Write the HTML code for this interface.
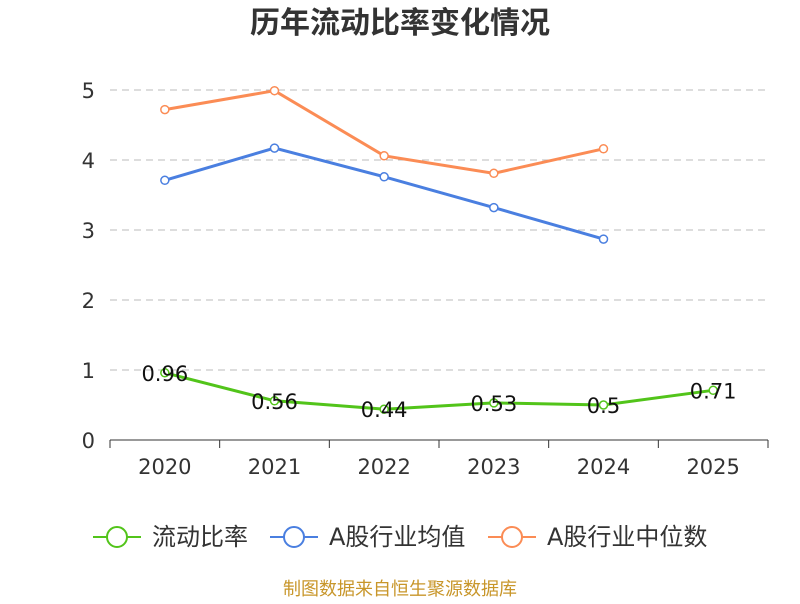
<!DOCTYPE html>
<html><head><meta charset="utf-8"><style>
body{margin:0;background:#fff;font-family:"DejaVu Sans","Noto Sans CJK SC",sans-serif}
</style></head><body>
<svg width="800" height="600" xmlns="http://www.w3.org/2000/svg" id="c" font-family="DejaVu Sans, Noto Sans CJK SC, sans-serif">
<text x="400" y="33" text-anchor="middle" font-size="30" font-weight="bold" fill="#333" font-family="Noto Sans CJK SC, sans-serif">历年流动比率变化情况</text>
<g id="grid"></g><g id="axes"></g><g id="series"></g>
<g font-size="24" fill="#333">
<g><line x1="93" y1="537" x2="141" y2="537" stroke="#52c41a" stroke-width="2"/><circle cx="117" cy="537" r="10" fill="#fff" stroke="#52c41a" stroke-width="2"/><text x="152" y="545">流动比率</text></g>
<g><line x1="270" y1="537" x2="318" y2="537" stroke="#4a7fe0" stroke-width="2"/><circle cx="294" cy="537" r="10" fill="#fff" stroke="#4a7fe0" stroke-width="2"/><text x="329" y="545">A股行业均值</text></g>
<g><line x1="488" y1="537" x2="536" y2="537" stroke="#fb8c55" stroke-width="2"/><circle cx="512" cy="537" r="10" fill="#fff" stroke="#fb8c55" stroke-width="2"/><text x="547" y="545">A股行业中位数</text></g>
</g>
<text x="400" y="595" text-anchor="middle" font-size="18" fill="#c8962a">制图数据来自恒生聚源数据库</text>
</svg>
<script>
const categories=["2020","2021","2022","2023","2024","2025"];
const currentRatio=[0.96,0.56,0.44,0.53,0.5,0.71];
const industryMean=[3.71,4.17,3.76,3.32,2.87];
const industryMedian=[4.72,4.99,4.06,3.81,4.16];
const yTicks=[0,1,2,3,4,5];
const NS="http://www.w3.org/2000/svg";
const x0=110,x1=768,y0=440,yTop=90,yMax=5;
const bw=(x1-x0)/categories.length;
const X=i=>x0+bw*(i+0.5);
const Y=v=>y0-(v/yMax)*(y0-yTop);
function mk(t,a,p){const e=document.createElementNS(NS,t);for(const k in a)e.setAttribute(k,a[k]);p.appendChild(e);return e;}
const grid=document.getElementById('grid'),axes=document.getElementById('axes'),ser=document.getElementById('series');
yTicks.forEach(v=>{
 if(v>0){const g=mk('line',{x1:x0,x2:x1,y1:Y(v),y2:Y(v),stroke:'#bbb','stroke-dasharray':'7,5'},grid);
 
 }
 const t=mk('text',{x:95,y:Y(v)+8,'text-anchor':'end','font-size':21,fill:'#333'},axes);t.textContent=v;
 
 
});
const ax=mk('line',{x1:x0,x2:x1,y1:y0,y2:y0,stroke:'#333'},axes);


for(let i=0;i<=categories.length;i++){mk('line',{x1:x0+bw*i,x2:x0+bw*i,y1:y0,y2:y0+8,stroke:'#333'},axes);}
categories.forEach((c,i)=>{const t=mk('text',{x:X(i),y:474,'text-anchor':'middle','font-size':21,fill:'#333'},axes);t.textContent=c;
 
 });
function series(vals,color,name,labels){
 const g=mk('g',{},ser);
 
 
 mk('polyline',{points:vals.map((v,i)=>X(i)+','+Y(v)).join(' '),fill:'none',stroke:color,'stroke-width':3},g);
 vals.forEach((v,i)=>{const c=mk('circle',{cx:X(i),cy:Y(v),r:4,fill:'#fff',stroke:color,'stroke-width':1.5},g);
  
  
  if(labels){const t=mk('text',{x:X(i),y:Y(v)+8,'text-anchor':'middle','font-size':21,fill:'#111'},g);t.textContent=v;
  
  }});
}
series(industryMedian,'#fb8c55','industry-median-line',false);
series(industryMean,'#4a7fe0','industry-mean-line',false);
series(currentRatio,'#52c41a','current-ratio-line',true);
</script>
</body></html>
